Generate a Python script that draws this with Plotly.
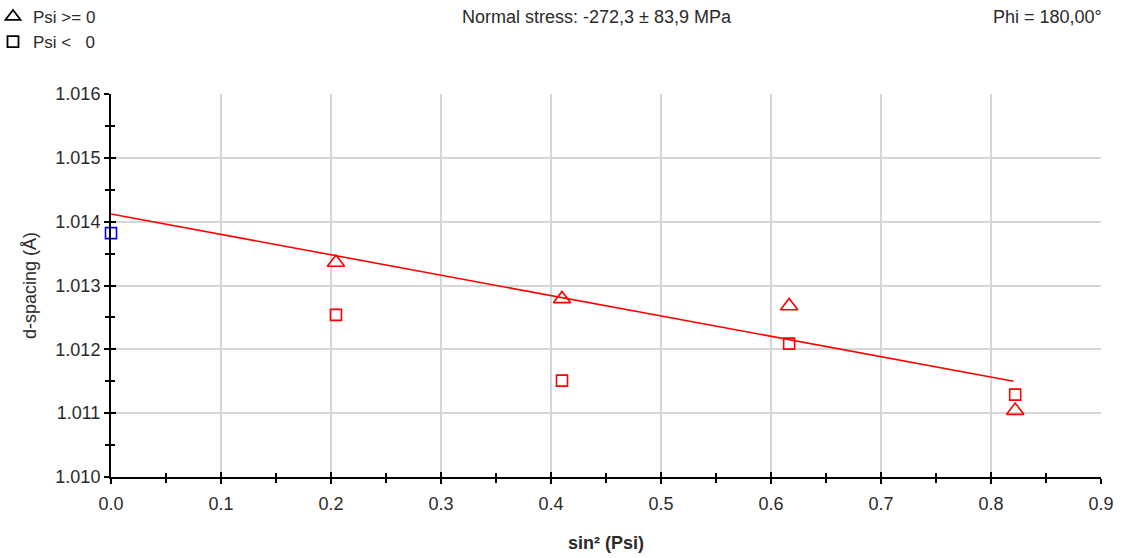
import plotly.graph_objects as go

# sin^2(psi) positions and measured d-spacings (Å)
sin2psi_pos = [0.2045, 0.410, 0.6165, 0.822]
d_pos = [1.01336, 1.01279, 1.01268, 1.01104]

sin2psi_neg = [0.2045, 0.410, 0.6165, 0.822]
d_neg = [1.01254, 1.01151, 1.01209, 1.01129]

sin2psi_zero = [0.0]
d_zero = [1.01382]

# linear fit of d vs sin^2(psi)
fit_x = [0.0, 0.8205]
fit_y = [1.01412, 1.01150]

x_ticks = [0.0, 0.1, 0.2, 0.3, 0.4, 0.5, 0.6, 0.7, 0.8, 0.9]
y_ticks = [1.010, 1.011, 1.012, 1.013, 1.014, 1.015, 1.016]

FONT = "Liberation Sans, Arial, sans-serif"
TXT = "#2a2a2a"
RED = "#ff0000"

W, H = 1125, 558
M_L, M_R, M_T, M_B = 111, 24, 94, 81
PLOT_W = W - M_L - M_R
PLOT_H = H - M_T - M_B


def paper_x(px):
    """Convert a pixel column to paper x."""
    return (px - M_L) / PLOT_W


def paper_y(px):
    """Convert a pixel row (from the top of the page) to paper y."""
    return (H - M_B - px) / PLOT_H


fig = go.Figure()

fig.add_trace(go.Scatter(x=fit_x, y=fit_y, mode="lines",
                         line=dict(color=RED, width=1.6), showlegend=False,
                         hoverinfo="skip"))
fig.add_trace(go.Scatter(x=sin2psi_pos, y=d_pos, mode="markers",
                         marker=dict(symbol="triangle-up-open", size=15,
                                     color=RED, line=dict(width=1.6, color=RED)),
                         showlegend=False))
fig.add_trace(go.Scatter(x=sin2psi_neg, y=d_neg, mode="markers",
                         marker=dict(symbol="square-open", size=11,
                                     color=RED, line=dict(width=1.6, color=RED)),
                         showlegend=False))
fig.add_trace(go.Scatter(x=sin2psi_zero, y=d_zero, mode="markers",
                         marker=dict(symbol="square-open", size=11,
                                     color="#0000ff", line=dict(width=1.6, color="#0000ff")),
                         showlegend=False, cliponaxis=False))

# legend entries (black symbols)
fig.add_trace(go.Scatter(x=[None], y=[None], mode="markers", name="Psi >= 0",
                         marker=dict(symbol="triangle-up-open", size=13, color="black",
                                     line=dict(width=1.8, color="black"))))
fig.add_trace(go.Scatter(x=[None], y=[None], mode="markers", name="Psi <\u00a0\u00a0 0",
                         marker=dict(symbol="square-open", size=11, color="black",
                                     line=dict(width=1.8, color="black"))))

# companion axes carrying the inner halves of the tick marks
fig.add_trace(go.Scatter(x=[None], y=[None], xaxis="x2", yaxis="y2",
                         showlegend=False, hoverinfo="skip"))

axis_common = dict(showline=True, linecolor="black", linewidth=2, zeroline=False,
                   tickcolor="black", tickwidth=1.5, automargin=False)

fig.update_layout(
    width=W, height=H,
    margin=dict(l=M_L, r=M_R, t=M_T, b=M_B, autoexpand=False),
    paper_bgcolor="white", plot_bgcolor="white",
    font=dict(family=FONT, size=18, color=TXT),
    xaxis=dict(range=[0, 0.9], tickvals=x_ticks,
               ticktext=[f"{v:.1f}" for v in x_ticks],
               ticks="outside", ticklen=5, ticklabelstandoff=4,
               minor=dict(dtick=0.05, ticks="outside", ticklen=4,
                          tickcolor="black", tickwidth=1.5, showgrid=False),
               showgrid=True, gridcolor="#d6d6d6", gridwidth=1.5,
               title=dict(text="<b>sin² (Psi)</b>", standoff=24,
                          font=dict(size=18, color=TXT)),
               tickfont=dict(size=18, color=TXT),
               **axis_common),
    yaxis=dict(range=[1.010, 1.016], tickvals=y_ticks,
               ticktext=[f"{v:.3f}" for v in y_ticks],
               ticks="outside", ticklen=5,
               minor=dict(dtick=0.0005, ticks="outside", ticklen=4,
                          tickcolor="black", tickwidth=1.5, showgrid=False),
               showgrid=True, gridcolor="#d6d6d6", gridwidth=1.5,
               title=dict(text="d-spacing (Å)", standoff=14,
                          font=dict(size=18, color=TXT)),
               tickfont=dict(size=18, color=TXT),
               **axis_common),
    xaxis2=dict(range=[0, 0.9], overlaying="x", anchor="y2", side="bottom",
                tickvals=x_ticks, showticklabels=False, ticks="inside", ticklen=5,
                minor=dict(dtick=0.05, ticks="inside", ticklen=4,
                           tickcolor="black", tickwidth=1.5),
                showgrid=False, zeroline=False, showline=False,
                tickcolor="black", tickwidth=1.5),
    yaxis2=dict(range=[1.010, 1.016], overlaying="y", anchor="x2", side="left",
                tickvals=y_ticks, showticklabels=False, ticks="inside", ticklen=5,
                minor=dict(dtick=0.0005, ticks="inside", ticklen=4,
                           tickcolor="black", tickwidth=1.5),
                showgrid=False, zeroline=False, showline=False,
                tickcolor="black", tickwidth=1.5),
    legend=dict(x=paper_x(-7), y=paper_y(-1),
                xanchor="left", yanchor="top", bgcolor="rgba(0,0,0,0)",
                font=dict(size=17, color=TXT), tracegroupgap=0,
                itemwidth=30),
    showlegend=True,
    annotations=[
        dict(text="Normal stress: -272,3 ± 83,9 MPa", xref="paper", yref="paper",
             x=paper_x(597), y=paper_y(17), xanchor="center", yanchor="middle",
             showarrow=False, font=dict(size=18, color=TXT)),
        dict(text="Phi = 180,00°", xref="paper", yref="paper",
             x=paper_x(1104), y=paper_y(17), xanchor="right", yanchor="middle",
             showarrow=False, font=dict(size=18, color=TXT)),
    ],
)

fig.write_html("out.html")
